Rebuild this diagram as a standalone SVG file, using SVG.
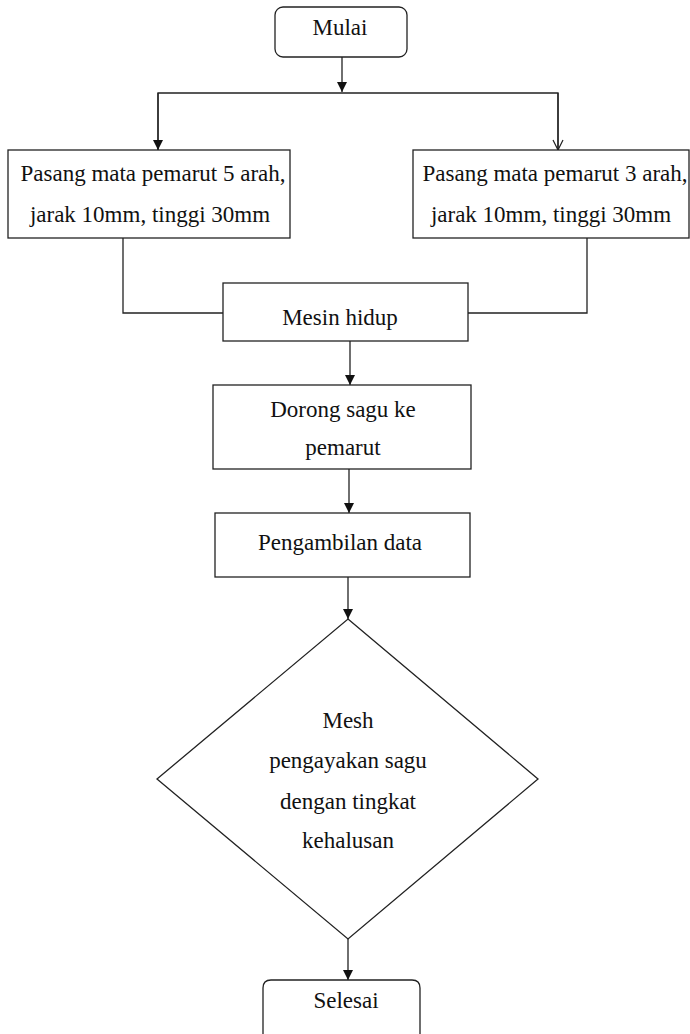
<svg xmlns="http://www.w3.org/2000/svg" width="690" height="1034" viewBox="0 0 690 1034">
<defs>
<style>
.box{fill:#fff;stroke:#222;stroke-width:1.3}
.ln{fill:none;stroke:#222;stroke-width:1.3}
.t{font-family:"Liberation Serif","DejaVu Serif",serif;font-size:23px;fill:#111;text-anchor:middle}
</style>
<marker id="ah" markerWidth="10" markerHeight="10" refX="10" refY="5" orient="auto" markerUnits="userSpaceOnUse">
<path d="M0,0 L10,5 L0,10 Z" fill="#111"/>
</marker>
<marker id="ao" markerWidth="12" markerHeight="12" refX="11" refY="6" orient="auto" markerUnits="userSpaceOnUse">
<path d="M1,1 L11,6 L1,11" fill="none" stroke="#222" stroke-width="1.2"/>
</marker>
</defs>
<rect width="690" height="1034" fill="#fff"/>
<g id="connectors">
<line class="ln" x1="342" y1="57" x2="342" y2="92" marker-end="url(#ah)"/>
<polyline class="ln" points="158,150 158,93 558,93 558,150"/>
<line class="ln" x1="158" y1="93" x2="158" y2="150" marker-end="url(#ah)"/>
<line class="ln" x1="558" y1="93" x2="558" y2="150" marker-end="url(#ao)"/>
<polyline class="ln" points="123,238 123,313 223,313"/>
<polyline class="ln" points="587,238 587,313 468,313"/>
<line class="ln" x1="350" y1="341" x2="350" y2="385" marker-end="url(#ah)"/>
<line class="ln" x1="349" y1="469" x2="349" y2="513" marker-end="url(#ah)"/>
<line class="ln" x1="348" y1="577" x2="348" y2="619" marker-end="url(#ah)"/>
<line class="ln" x1="348" y1="939" x2="348" y2="980" marker-end="url(#ah)"/>
</g>
<g id="n-mulai">
<rect class="box" x="275" y="7" width="132" height="50" rx="8"/>
<text class="t" x="340" y="35">Mulai</text>
</g>
<g id="n-pasang5">
<rect class="box" x="8" y="150" width="282" height="88"/>
<text class="t" x="153" y="181">Pasang mata pemarut 5 arah,</text>
<text class="t" x="150" y="222">jarak 10mm, tinggi 30mm</text>
</g>
<g id="n-pasang3">
<rect class="box" x="413" y="150" width="276" height="88"/>
<text class="t" x="555" y="181">Pasang mata pemarut 3 arah,</text>
<text class="t" x="551" y="222">jarak 10mm, tinggi 30mm</text>
</g>
<g id="n-mesin">
<rect class="box" x="223" y="283" width="245" height="58"/>
<text class="t" x="340" y="325">Mesin hidup</text>
</g>
<g id="n-dorong">
<rect class="box" x="213" y="385" width="258" height="84"/>
<text class="t" x="343" y="417">Dorong sagu ke</text>
<text class="t" x="343" y="455">pemarut</text>
</g>
<g id="n-pengambilan">
<rect class="box" x="215" y="513" width="255" height="64"/>
<text class="t" x="340" y="550">Pengambilan data</text>
</g>
<g id="n-mesh">
<polygon class="box" points="348,619 538,779 348,939 157,779"/>
<text class="t" x="348" y="728">Mesh</text>
<text class="t" x="348" y="768">pengayakan sagu</text>
<text class="t" x="348" y="809">dengan tingkat</text>
<text class="t" x="348" y="848">kehalusan</text>
</g>
<g id="n-selesai">
<path class="box" d="M263,1034 L263,988 Q263,980 271,980 L412,980 Q420,980 420,988 L420,1034"/>
<text class="t" x="346" y="1008">Selesai</text>
</g>
</svg>
